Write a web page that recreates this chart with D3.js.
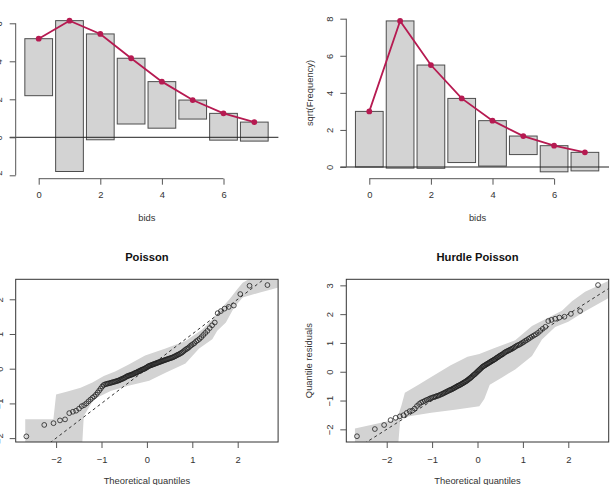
<!DOCTYPE html>
<html><head><meta charset="utf-8">
<script src="https://cdn.jsdelivr.net/npm/d3@7"></script>
<style>
html,body{margin:0;padding:0;background:#fff;}
svg{display:block;}
text{font-family:"Liberation Sans",Arial,Helvetica,sans-serif;}
</style></head>
<body>
<svg id="chart" width="614" height="485"></svg>
<script>
// ---------------- DATA ----------------
const bids = [0, 1, 2, 3, 4, 5, 6, 7];
const sqrtObserved = [3.00, 7.94, 5.57, 3.46, 2.45, 1.00, 1.41, 1.00];
const sqrtExpectedPoisson = [5.19, 6.14, 5.44, 4.16, 2.93, 1.96, 1.26, 0.80];
const sqrtExpectedHurdle = [3.00, 7.88, 5.50, 3.70, 2.50, 1.67, 1.15, 0.79];

const rootTicksX = [0, 2, 4, 6];
const poissonRootTicksY = [-2, 0, 2, 4, 6];
const hurdleRootTicksY = [0, 2, 4, 6, 8];

const qqTicksX = [-2, -1, 0, 1, 2];
const poissonQQTicksY = [-2, -1, 0, 1, 2];
const hurdleQQTicksY = [-2, -1, 0, 1, 2, 3];

const panelTitles = ["Poisson", "Hurdle Poisson"];

// theoretical normal quantiles (n = 126)
const theoQuantiles = [
-2.655,-2.261,-2.057,-1.915,-1.803,-1.710,-1.630,-1.559,-1.495,-1.436,
-1.383,-1.333,-1.286,-1.242,-1.200,-1.160,-1.122,-1.085,-1.050,-1.016,
-0.983,-0.952,-0.921,-0.891,-0.862,-0.833,-0.805,-0.777,-0.751,-0.725,
-0.700,-0.674,-0.650,-0.625,-0.601,-0.578,-0.555,-0.532,-0.509,-0.486,
-0.464,-0.442,-0.420,-0.399,-0.377,-0.356,-0.335,-0.314,-0.293,-0.272,
-0.252,-0.231,-0.211,-0.191,-0.170,-0.150,-0.130,-0.110,-0.090,-0.070,
-0.050,-0.030,-0.010,0.010,0.030,0.050,0.070,0.090,0.110,0.130,
0.150,0.170,0.191,0.211,0.231,0.252,0.272,0.293,0.314,0.335,
0.356,0.377,0.399,0.420,0.442,0.464,0.486,0.509,0.532,0.555,
0.578,0.601,0.625,0.650,0.674,0.700,0.725,0.751,0.777,0.805,
0.833,0.862,0.891,0.921,0.952,0.983,1.016,1.050,1.085,1.122,
1.160,1.200,1.242,1.286,1.333,1.383,1.436,1.495,1.559,1.630,
1.710,1.803,1.915,2.057,2.261,2.655];

const poissonResiduals = [
-1.95,-1.62,-1.57,-1.49,-1.46,-1.28,-1.24,-1.21,-1.15,-1.08,
-1.05,-1.00,-0.94,-0.89,-0.84,-0.80,-0.75,-0.69,-0.63,-0.57,
-0.51,-0.47,-0.45,-0.44,-0.43,-0.42,-0.41,-0.40,-0.39,-0.38,
-0.37,-0.36,-0.35,-0.34,-0.33,-0.31,-0.30,-0.29,-0.27,-0.26,
-0.24,-0.22,-0.21,-0.20,-0.19,-0.18,-0.17,-0.16,-0.15,-0.13,
-0.12,-0.11,-0.10,-0.08,-0.07,-0.06,-0.04,-0.03,-0.02,-0.01,
0.00,0.02,0.03,0.05,0.07,0.08,0.09,0.10,0.11,0.12,
0.13,0.14,0.15,0.16,0.17,0.18,0.19,0.20,0.21,0.22,
0.23,0.24,0.25,0.26,0.27,0.28,0.29,0.30,0.31,0.32,
0.33,0.35,0.36,0.38,0.40,0.41,0.43,0.45,0.47,0.50,
0.53,0.56,0.58,0.61,0.65,0.68,0.71,0.74,0.79,0.82,
0.86,0.91,0.97,1.03,1.09,1.17,1.25,1.33,1.60,1.66,
1.73,1.78,1.82,2.15,2.39,2.41];

const hurdleResiduals = [
-2.24,-1.99,-1.85,-1.68,-1.60,-1.55,-1.51,-1.43,-1.37,-1.35,
-1.28,-1.19,-1.12,-1.07,-1.04,-1.01,-0.98,-0.96,-0.93,-0.91,
-0.89,-0.88,-0.86,-0.84,-0.83,-0.81,-0.79,-0.77,-0.75,-0.73,
-0.71,-0.69,-0.67,-0.65,-0.63,-0.62,-0.60,-0.58,-0.56,-0.54,
-0.52,-0.50,-0.48,-0.47,-0.45,-0.43,-0.41,-0.39,-0.37,-0.35,
-0.33,-0.31,-0.28,-0.26,-0.23,-0.21,-0.18,-0.15,-0.12,-0.10,
-0.07,-0.04,-0.01,0.02,0.05,0.08,0.11,0.14,0.17,0.19,
0.21,0.23,0.25,0.27,0.29,0.31,0.33,0.35,0.37,0.39,
0.41,0.43,0.45,0.48,0.50,0.52,0.55,0.57,0.59,0.61,
0.64,0.67,0.69,0.71,0.73,0.75,0.77,0.79,0.81,0.84,
0.87,0.90,0.92,0.94,0.97,1.00,1.03,1.07,1.10,1.14,
1.18,1.22,1.26,1.30,1.35,1.42,1.49,1.56,1.76,1.80,
1.84,1.88,1.91,2.01,2.11,3.01];

const poissonBandUpper = [[-2.68,-1.46],[-2.06,-1.46],[-2.00,-0.74],[-1.75,-0.66],[-1.46,-0.55],
  [-1.20,-0.40],[-0.95,-0.21],[-0.70,-0.08],[-0.40,0.12],[-0.04,0.38],[0.41,0.58],[0.85,0.80],
  [1.22,1.13],[1.44,1.42],[1.66,1.76],[1.85,2.05],[1.99,2.29],[2.11,2.48],[2.30,2.62],[2.88,2.62]];
const poissonBandLower = [[-2.68,-2.30],[-1.43,-2.30],[-1.39,-1.36],[-1.17,-0.88],[-0.80,-0.64],
  [-0.43,-0.50],[0.05,-0.35],[0.41,-0.12],[0.85,0.15],[1.15,0.58],[1.44,0.85],[1.55,1.09],
  [1.74,1.33],[1.92,1.76],[2.11,2.05],[2.47,2.19],[2.88,2.33]];

const hurdleBandUpper = [[-2.70,-1.97],[-2.20,-1.80],[-1.78,-1.65],[-1.68,-1.20],[-1.60,-0.73],
  [-1.30,-0.45],[-1.02,-0.18],[-0.60,0.22],[-0.22,0.52],[0.04,0.62],[0.39,0.83],[0.83,1.09],
  [1.20,1.59],[1.49,1.82],[1.86,2.12],[2.08,2.45],[2.37,2.78],[2.88,3.15]];
const hurdleBandLower = [[-2.70,-2.60],[-1.75,-2.60],[-1.70,-1.62],[-1.50,-1.55],[-1.02,-1.42],
  [-0.50,-1.32],[0.04,-1.20],[0.15,-0.95],[0.27,-0.45],[0.54,-0.20],[0.83,0.08],[1.20,0.55],
  [1.42,1.12],[1.71,1.55],[2.00,1.74],[2.37,2.10],[2.88,2.55]];

// ---------------- DRAWING ----------------
const svg = d3.select("#chart");
const RED = "#B61A51";
const AXIS = "#555";
const TXT = "#333";
const FS = 9.4;

function rootogram(off, yDomain, yRange, expected, yTicks, yLabel) {
  const g = svg.append("g");
  const x = d3.scaleLinear().domain([0, 6]).range([369.3 + off, 554.1 + off]);
  const y = d3.scaleLinear().domain(yDomain).range(yRange);
  const axX = 346.3 + off, axY = 178.7;

  g.selectAll("rect.bar").data(bids).enter().append("rect")
    .attr("x", (d) => x(d - 0.45))
    .attr("width", x(0.9) - x(0))
    .attr("y", (d, i) => y(expected[i]))
    .attr("height", (d, i) => y(expected[i] - sqrtObserved[i]) - y(expected[i]))
    .attr("fill", "#D3D3D3").attr("stroke", "#4d4d4d").attr("stroke-width", 1);

  g.append("line").attr("x1", axX - 6).attr("x2", 609 + off)
    .attr("y1", y(0)).attr("y2", y(0)).attr("stroke", "#222").attr("stroke-width", 1);

  const line = d3.line().x((d) => x(d)).y((d, i) => y(expected[i]));
  g.append("path").attr("d", line(bids)).attr("fill", "none")
    .attr("stroke", RED).attr("stroke-width", 1.8);
  g.selectAll("circle").data(bids).enter().append("circle")
    .attr("cx", (d) => x(d)).attr("cy", (d, i) => y(expected[i])).attr("r", 2.9)
    .attr("fill", RED);

  const xa = g.append("g").attr("transform", `translate(0,${axY})`)
    .call(d3.axisBottom(x).tickValues(rootTicksX).tickSize(6).tickSizeOuter(0).tickPadding(4));
  xa.select(".domain").remove();
  xa.append("line").attr("x1", x(rootTicksX[0])).attr("x2", x(rootTicksX[rootTicksX.length - 1]))
    .attr("stroke", AXIS);
  styleAxis(xa);
  xa.selectAll("text").attr("y", 19.6).attr("dy", 0);

  const ya = g.append("g").attr("transform", `translate(${axX},0)`)
    .call(d3.axisLeft(y).tickValues(yTicks).tickSize(6).tickSizeOuter(0));
  ya.select(".domain").remove();
  ya.append("line").attr("y1", y(yTicks[0])).attr("y2", y(yTicks[yTicks.length - 1])).attr("stroke", AXIS);
  styleAxis(ya);
  ya.selectAll("text").attr("transform", "rotate(-90)").attr("x", 0).attr("y", -13.3)
    .attr("dy", 0).attr("text-anchor", "middle");

  g.append("text").attr("x", 477.5 + off).attr("y", 220.5).attr("text-anchor", "middle")
    .attr("font-size", FS).attr("fill", TXT).text("bids");
  if (yLabel) {
    g.append("text").attr("transform", `translate(${312.5 + off},93) rotate(-90)`)
      .attr("text-anchor", "middle").attr("font-size", FS).attr("fill", TXT).text(yLabel);
  }
}

function styleAxis(a) {
  a.selectAll(".tick line").attr("stroke", AXIS);
  a.selectAll("text").attr("font-size", FS).attr("fill", TXT)
    .attr("font-family", '"Liberation Sans",Arial,sans-serif')
    .text((d) => (d < 0 ? "\u2212" + Math.abs(d) : String(d)));
}

function qqplot(off, yDomain, resid, bandU, bandL, yTicks, title, yLabel, id) {
  const g = svg.append("g");
  const L = 346.3 + off, R = 608.7 + off, T = 279.3, B = 442;
  const x = d3.scaleLinear().domain([-2.89, 2.89]).range([L, R]);
  const y = d3.scaleLinear().domain(yDomain).range([B, T]);

  svg.append("clipPath").attr("id", id).append("rect")
    .attr("x", L).attr("y", T).attr("width", R - L).attr("height", B - T);
  const c = g.append("g").attr("clip-path", `url(#${id})`);

  const poly = bandU.concat(bandL.slice().reverse());
  c.append("path").attr("d", d3.line().x((d) => x(d[0])).y((d) => y(d[1]))(poly) + "Z")
    .attr("fill", "#D3D3D3").attr("stroke", "none");

  c.append("line").attr("x1", x(-3.5)).attr("y1", y(-3.5)).attr("x2", x(3.5)).attr("y2", y(3.5))
    .attr("stroke", "#333").attr("stroke-width", 1).attr("stroke-dasharray", "3,3");

  c.selectAll("circle").data(theoQuantiles).enter().append("circle")
    .attr("cx", (d) => x(d)).attr("cy", (d, i) => y(resid[i])).attr("r", 2.4)
    .attr("fill", "none").attr("stroke", "#222").attr("stroke-width", 0.8);

  g.append("rect").attr("x", L).attr("y", T).attr("width", R - L).attr("height", B - T)
    .attr("fill", "none").attr("stroke", "#333").attr("stroke-width", 1);

  const xa = g.append("g").attr("transform", `translate(0,${B})`)
    .call(d3.axisBottom(x).tickValues(qqTicksX).tickSize(6).tickSizeOuter(0));
  xa.select(".domain").remove();
  styleAxis(xa);
  xa.selectAll("text").attr("y", 21.3).attr("dy", 0);

  const ya = g.append("g").attr("transform", `translate(${L},0)`)
    .call(d3.axisLeft(y).tickValues(yTicks).tickSize(6).tickSizeOuter(0));
  ya.select(".domain").remove();
  styleAxis(ya);
  ya.selectAll("text").attr("transform", "rotate(-90)").attr("x", 0).attr("y", -13)
    .attr("dy", 0).attr("text-anchor", "middle");

  g.append("text").attr("x", (L + R) / 2).attr("y", 260.7).attr("text-anchor", "middle")
    .attr("font-size", 11.2).attr("font-weight", "bold").attr("fill", "#111").text(title);
  g.append("text").attr("x", (L + R) / 2).attr("y", 483.6).attr("text-anchor", "middle")
    .attr("font-size", FS).attr("fill", TXT).text("Theoretical quantiles");
  if (yLabel) {
    g.append("text").attr("transform", `translate(${312 + off},${(T + B) / 2}) rotate(-90)`)
      .attr("text-anchor", "middle").attr("font-size", FS).attr("fill", TXT).text(yLabel);
  }
}

const LEFT = -330.6;
rootogram(LEFT, [-2, 6], [175.3, 23.3], sqrtExpectedPoisson, poissonRootTicksY, null);
rootogram(0, [0, 8], [167, 18.7], sqrtExpectedHurdle, hurdleRootTicksY, "sqrt(Frequency)");
qqplot(LEFT, [-2.112, 2.576], poissonResiduals, poissonBandUpper, poissonBandLower,
  poissonQQTicksY, panelTitles[0], null, "clipP");
qqplot(0, [-2.44, 3.21], hurdleResiduals, hurdleBandUpper, hurdleBandLower,
  hurdleQQTicksY, panelTitles[1], "Quantile residuals", "clipH");
</script>
</body></html>
